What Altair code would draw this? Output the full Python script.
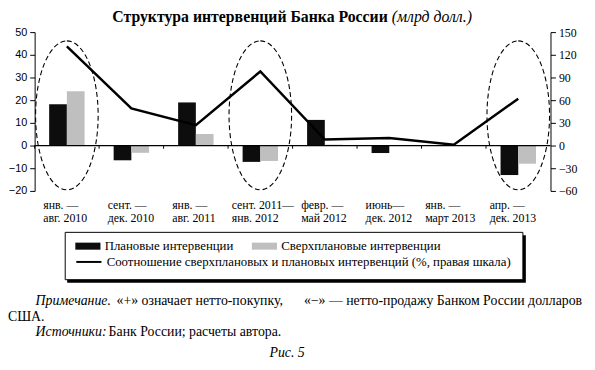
import altair as alt
import pandas as pd

categories = [
    "янв. —\nавг. 2010",
    "сент. —\nдек. 2010",
    "янв. —\nавг. 2011",
    "сент. 2011—\nянв. 2012",
    "февр. —\nмай 2012",
    "июнь—\nдек. 2012",
    "янв. —\nмарт 2013",
    "апр. —\nдек. 2013",
]
planned = [18.2, -6.5, 19.0, -7.2, 11.3, -3.3, 0.0, -13.0]
excess = [23.9, -3.2, 5.1, -6.8, 0.4, -0.2, 0.1, -8.0]
ratio = [131, 49, 27, 98, 8, 10, 1, 62]
series_names = ["Плановые интервенции", "Сверхплановые интервенции"]
line_name = "Соотношение сверхплановых и плановых интервенций (%, правая шкала)"
highlight_cats = [categories[0], categories[3], categories[7]]
highlight_center = [13.3, 13.3, 13.3]
left_ticks = [-20, -10, 0, 10, 20, 30, 40, 50]
right_ticks = [-60, -30, 0, 30, 60, 90, 120, 150]

bars_df = pd.DataFrame({
    "cat": categories * 2,
    "series": [series_names[0]] * len(categories) + [series_names[1]] * len(categories),
    "value": planned + excess,
})
line_df = pd.DataFrame({"cat": categories, "ratio": ratio, "name": [line_name] * len(categories)})
ell_df = pd.DataFrame({"cat": highlight_cats, "y": highlight_center})
one = pd.DataFrame({"k": [0]})

W, H = 523, 161
SERIF = "Liberation Serif"

xscale = alt.Scale(domain=categories, paddingInner=0, paddingOuter=0)
yleft = alt.Scale(domain=[-20, 50], nice=False, zero=False)
yright = alt.Scale(domain=[-60, 150], nice=False, zero=False)

x_axis = alt.Axis(
    title=None, orient="bottom", domain=False, ticks=False, labelAngle=0,
    labelAlign="left", labelBaseline="top", labelPadding=9, labelFont=SERIF,
    labelFontSize=12, labelColor="black", labelLineHeight=13, labelLimit=0,
    labelOverlap=False,
    labelExpr="split(datum.label, '\\n')",
    labelOffset={"condition": {"test": "indexof(datum.value, '2011—') >= 0 || indexof(datum.value, '2013') >= 0", "value": -29}, "value": -24},
)

left_axis = alt.Axis(
    title=None, values=left_ticks, grid=False, domainColor="black", tickColor="black",
    tickSize=5, labelFont="Liberation Sans", labelFontSize=11, labelColor="black",
    labelPadding=3, labelOverlap=False)


def xenc(**kw):
    return alt.X("cat:N", scale=xscale, sort=categories, axis=x_axis, **kw)


bars = alt.Chart(bars_df).mark_bar().encode(
    x=xenc(),
    xOffset=alt.XOffset("series:N", sort=series_names, scale=alt.Scale(domain=series_names, paddingOuter=0.82, paddingInner=0)),
    y=alt.Y("value:Q", scale=yleft, axis=left_axis),
    fill=alt.Fill("series:N", scale=alt.Scale(domain=series_names, range=["#0d0d0d", "#bfbfbf"]),
                  legend=alt.Legend(
                      orient="none", legendX=41, legendY=204, direction="horizontal", title=None,
                      symbolType="M-1,-0.28H1V0.28H-1Z", symbolSize=650, symbolStrokeWidth=0,
                      labelFont=SERIF, labelFontSize=13, labelColor="black", labelOffset=4,
                      columnPadding=18, padding=0, labelLimit=0)),
)

zero_line = alt.Chart(one).mark_rule(color="black", strokeWidth=1.2).encode(
    x=alt.value(0), x2=alt.value(W), y=alt.Y(datum=0, scale=yleft, axis=left_axis)
)

sep_ticks = alt.Chart(line_df).mark_rule(color="black", strokeWidth=1).encode(
    x=xenc(bandPosition=0), y=alt.Y(datum=0, scale=yleft, axis=left_axis), y2=alt.Y2(datum=-1.4)
)

ellipses = alt.Chart(ell_df).mark_point(
    shape="M0,-1 A0.42,1 0 1,1 0,1 A0.42,1 0 1,1 0,-1 Z",
    size=151 * 151, filled=False, stroke="black", strokeWidth=1.1,
    strokeDash=[5, 3], opacity=1,
).encode(x=xenc(), y=alt.Y("y:Q", scale=yleft, axis=left_axis))

left = alt.layer(bars, zero_line, sep_ticks, ellipses)

line = alt.Chart(line_df).mark_line(strokeWidth=2.5).encode(
    x=xenc(),
    y=alt.Y("ratio:Q", scale=yright, axis=alt.Axis(
        title=None, orient="right", values=right_ticks, grid=False, domainColor="black",
        tickColor="black", tickSize=5, labelFont=SERIF, labelFontSize=12, labelColor="black",
        labelPadding=3, labelOverlap=False)),
    stroke=alt.Stroke("name:N", scale=alt.Scale(domain=[line_name], range=["black"]),
                      legend=alt.Legend(
                          orient="none", legendX=41, legendY=219, title=None,
                          symbolType="stroke", symbolSize=650, symbolStrokeWidth=2,
                          labelFont=SERIF, labelFontSize=13, labelColor="black",
                          labelOffset=4, padding=0, labelLimit=0)),
)

box_shadow = alt.Chart(one).mark_rect(fill="black").encode(
    x=alt.value(33), x2=alt.value(498), y=alt.value(206), y2=alt.value(254)
)
box = alt.Chart(one).mark_rect(fill="white", stroke="black", strokeWidth=1).encode(
    x=alt.value(31), x2=alt.value(495), y=alt.value(203), y2=alt.value(251)
)


def txt(s, x, y, align="left", size=14, style="normal", weight="normal"):
    return alt.Chart(one).mark_text(
        font=SERIF, fontSize=size, fontStyle=style, fontWeight=weight,
        align=align, baseline="middle", color="black",
    ).encode(x=alt.value(x), y=alt.value(y), text=alt.value(s))


texts = [
    txt("Структура интервенций Банка России", 358, -15, align="right", size=16, weight="bold"),
    txt("(млрд долл.)", 362, -15, size=16, style="italic"),
    txt("Примечание.", 1, 273, style="italic"),
    txt("«+» означает нетто-покупку,", 83, 273),
    txt("«−» — нетто-продажу Банком России долларов", 555, 273, align="right"),
    txt("США.", -27, 289),
    txt("Источники:", 1, 304, style="italic"),
    txt("Банк России; расчеты автора.", 75, 304),
    txt("Рис. 5", 256, 325, align="center", size=14, style="italic"),
]

chart = alt.layer(box_shadow, box, left, line, *texts).resolve_scale(
    y="independent", fill="independent", stroke="independent"
).properties(
    width=W, height=H,
    padding={"left": 27, "top": 22, "right": 37, "bottom": 171},
    autosize=alt.AutoSizeParams(type="none"),
    background="white",
).configure_view(stroke=None).configure_axis(grid=False)

chart.save("out.html", embed_options={"renderer": "svg", "actions": False})
